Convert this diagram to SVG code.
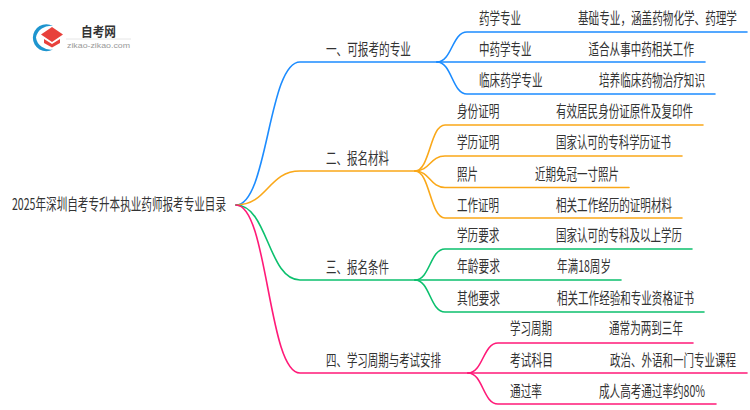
<svg xmlns="http://www.w3.org/2000/svg" width="750" height="410" viewBox="0 0 750 410">
<style>
text{font-family:"Noto Sans CJK SC","Liberation Sans",sans-serif;font-size:15.5px;fill:#333;dominant-baseline:central}
.c{fill:none;stroke-width:1.6;stroke-linecap:round}
.b{stroke:#1c8cff}.o{stroke:#faa819}.g{stroke:#0cc06e}.p{stroke:#ff1a78}
</style>
<rect width="750" height="410" fill="#fff"/>
<g id="logo">
<path d="M53 26A13.500 13.500 0 1 0 53 49.500A15 13.500 0 0 1 36 37.500A15 13.500 0 0 1 53 26Z" fill="#1e95cf"/>
<path d="M52 27L63 34.500L52 42L41 34.500Z" fill="#e8413c"/>
<path d="M44 39L52 44L60 39V43L52 47.500L44 43Z" fill="#e8413c"/>
<text x="81" y="30" textLength="35" lengthAdjust="spacingAndGlyphs" style="font-size:13px;font-weight:700">自考网</text>
<path d="M66 39H131" stroke="#e6e6e6" stroke-width="1"/>
<text x="67" y="45" textLength="63" lengthAdjust="spacingAndGlyphs" style="font-size:8px;fill:#999;font-family:'Liberation Sans',sans-serif">zikao-zikao.com</text>
</g>
<g id="connectors">
<path class="c b" d="M236 205C268 205 268 62 300 62H437"/>
<path class="c b" d="M437 62C452 62 452 32 467 32H747"/>
<path class="c b" d="M437 62H705"/>
<path class="c b" d="M437 62C452 62 452 94 467 94H715"/>
<path class="c o" d="M236 205C268 205 268 171 300 171H415"/>
<path class="c o" d="M415 171C430 171 430 125 445 125H703"/>
<path class="c o" d="M415 171C430 171 430 156 445 156H682"/>
<path class="c o" d="M415 171C430 171 430 187.500 445 187.500H629"/>
<path class="c o" d="M415 171C430 171 430 218 445 218H682"/>
<path class="c g" d="M236 205C268 205 268 280 300 280H415"/>
<path class="c g" d="M415 280C430 280 430 249 445 249H692"/>
<path class="c g" d="M415 280H621"/>
<path class="c g" d="M415 280C430 280 430 312 445 312H704"/>
<path class="c p" d="M236 205C268 205 268 373 300 373H468"/>
<path class="c p" d="M468 373C483 373 483 343 498 343H693"/>
<path class="c p" d="M468 373H747"/>
<path class="c p" d="M468 373C483 373 483 404 498 404H716"/>
</g>
<g id="root"><text transform="translate(12 204) scale(.68 1)" textLength="314.700" lengthAdjust="spacingAndGlyphs">2025年深圳自考专升本执业药师报考专业目录</text></g>
<g id="n1"><text transform="translate(326 49) scale(.68 1)" textLength="125" lengthAdjust="spacingAndGlyphs">一、可报考的专业</text></g>
<g id="n1-1"><text transform="translate(479 18) scale(.68 1)" textLength="61.800" lengthAdjust="spacingAndGlyphs">药学专业</text><text transform="translate(578 18) scale(.68 1)" textLength="233.800" lengthAdjust="spacingAndGlyphs">基础专业，涵盖药物化学、药理学</text></g>
<g id="n1-2"><text transform="translate(479 49) scale(.68 1)" textLength="77.200" lengthAdjust="spacingAndGlyphs">中药学专业</text><text transform="translate(588.500 49) scale(.68 1)" textLength="155.100" lengthAdjust="spacingAndGlyphs">适合从事中药相关工作</text></g>
<g id="n1-3"><text transform="translate(479 80) scale(.68 1)" textLength="93.400" lengthAdjust="spacingAndGlyphs">临床药学专业</text><text transform="translate(599 80) scale(.68 1)" textLength="155.900" lengthAdjust="spacingAndGlyphs">培养临床药物治疗知识</text></g>
<g id="n2"><text transform="translate(326 158) scale(.68 1)" textLength="92.600" lengthAdjust="spacingAndGlyphs">二、报名材料</text></g>
<g id="n2-1"><text transform="translate(457 111) scale(.68 1)" textLength="62.500" lengthAdjust="spacingAndGlyphs">身份证明</text><text transform="translate(556 111) scale(.68 1)" textLength="201.500" lengthAdjust="spacingAndGlyphs">有效居民身份证原件及复印件</text></g>
<g id="n2-2"><text transform="translate(457 142) scale(.68 1)" textLength="62.500" lengthAdjust="spacingAndGlyphs">学历证明</text><text transform="translate(556 142) scale(.68 1)" textLength="169.100" lengthAdjust="spacingAndGlyphs">国家认可的专科学历证书</text></g>
<g id="n2-3"><text transform="translate(457 173.500) scale(.68 1)" textLength="30.900" lengthAdjust="spacingAndGlyphs">照片</text><text transform="translate(535 173.500) scale(.68 1)" textLength="123.500" lengthAdjust="spacingAndGlyphs">近期免冠一寸照片</text></g>
<g id="n2-4"><text transform="translate(457 205) scale(.68 1)" textLength="61.800" lengthAdjust="spacingAndGlyphs">工作证明</text><text transform="translate(556 205) scale(.68 1)" textLength="170.600" lengthAdjust="spacingAndGlyphs">相关工作经历的证明材料</text></g>
<g id="n3"><text transform="translate(326 267) scale(.68 1)" textLength="92.600" lengthAdjust="spacingAndGlyphs">三、报名条件</text></g>
<g id="n3-1"><text transform="translate(457 235) scale(.68 1)" textLength="62.500" lengthAdjust="spacingAndGlyphs">学历要求</text><text transform="translate(556 235) scale(.68 1)" textLength="185.300" lengthAdjust="spacingAndGlyphs">国家认可的专科及以上学历</text></g>
<g id="n3-2"><text transform="translate(457 266) scale(.68 1)" textLength="63.200" lengthAdjust="spacingAndGlyphs">年龄要求</text><text transform="translate(557 266) scale(.68 1)" textLength="79.400" lengthAdjust="spacingAndGlyphs">年满18周岁</text></g>
<g id="n3-3"><text transform="translate(457 298) scale(.68 1)" textLength="63.200" lengthAdjust="spacingAndGlyphs">其他要求</text><text transform="translate(557 298) scale(.68 1)" textLength="201.500" lengthAdjust="spacingAndGlyphs">相关工作经验和专业资格证书</text></g>
<g id="n4"><text transform="translate(326 360) scale(.68 1)" textLength="169.100" lengthAdjust="spacingAndGlyphs">四、学习周期与考试安排</text></g>
<g id="n4-1"><text transform="translate(510 328) scale(.68 1)" textLength="61.800" lengthAdjust="spacingAndGlyphs">学习周期</text><text transform="translate(609 328) scale(.68 1)" textLength="108.800" lengthAdjust="spacingAndGlyphs">通常为两到三年</text></g>
<g id="n4-2"><text transform="translate(510 360) scale(.68 1)" textLength="63.200" lengthAdjust="spacingAndGlyphs">考试科目</text><text transform="translate(610 360) scale(.68 1)" textLength="185.300" lengthAdjust="spacingAndGlyphs">政治、外语和一门专业课程</text></g>
<g id="n4-3"><text transform="translate(510 391) scale(.68 1)" textLength="47.100" lengthAdjust="spacingAndGlyphs">通过率</text><text transform="translate(599 391) scale(.68 1)" textLength="155.900" lengthAdjust="spacingAndGlyphs">成人高考通过率约80%</text></g>
</svg>
